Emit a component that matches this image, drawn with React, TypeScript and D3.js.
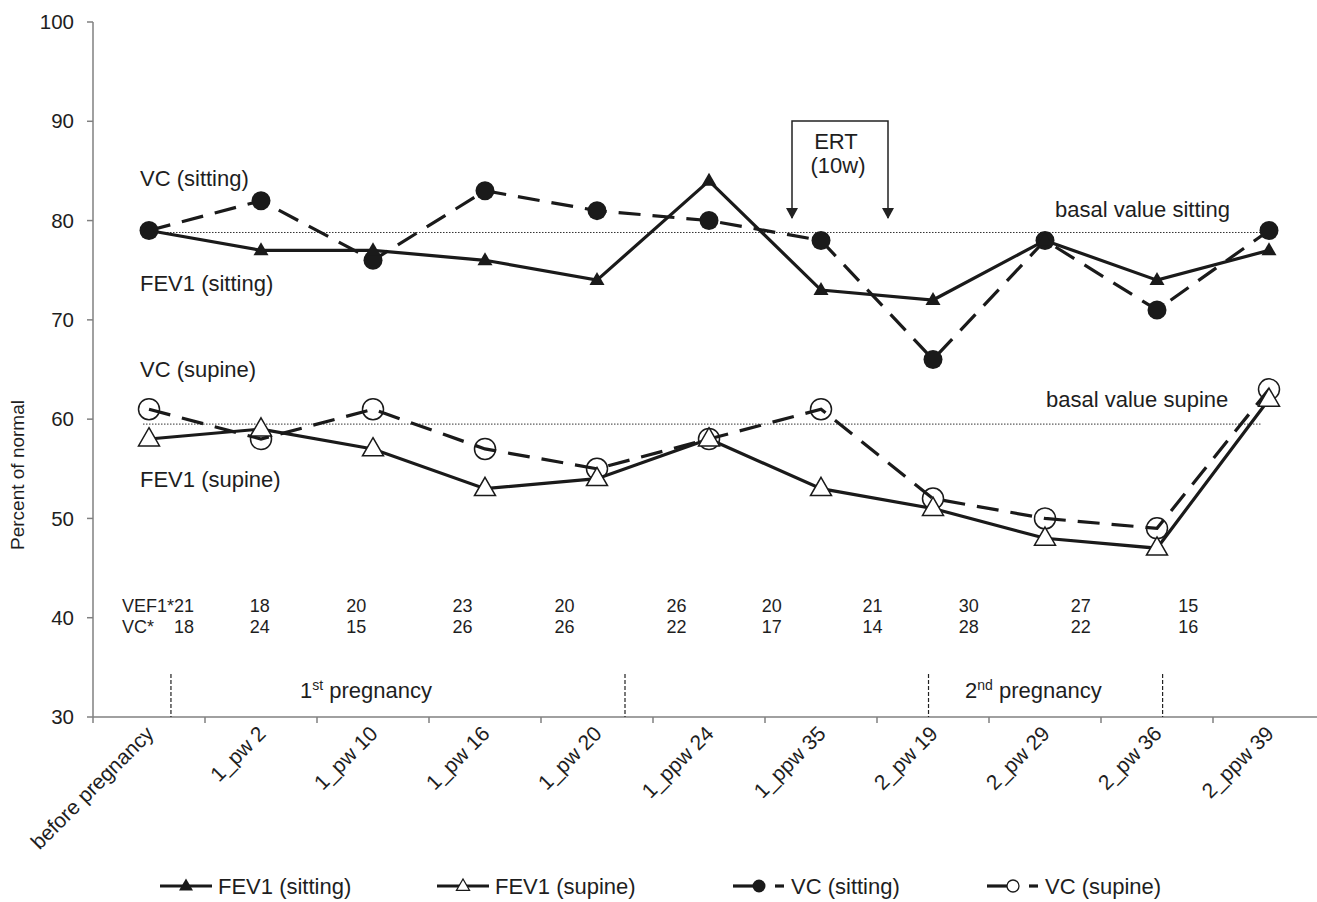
import React from "react";
import * as d3 from "d3";

const categories = ["before pregnancy", "1_pw 2", "1_pw 10", "1_pw 16", "1_pw 20", "1_ppw 24", "1_ppw 35", "2_pw 19", "2_pw 29", "2_pw 36", "2_ppw 39"];
const fev1Sitting = [79, 77, 77, 76, 74, 84, 73, 72, 78, 74, 77];
const vcSitting = [79, 82, 76, 83, 81, 80, 78, 66, 78, 71, 79];
const fev1Supine = [58, 59, 57, 53, 54, 58, 53, 51, 48, 47, 62];
const vcSupine = [61, 58, 61, 57, 55, 58, 61, 52, 50, 49, 63];
const yTicks = [30, 40, 50, 60, 70, 80, 90, 100];
const vef1Star = [21, 18, 20, 23, 20, 26, 20, 21, 30, 27, 15];
const vcStar = [18, 24, 15, 26, 26, 22, 17, 14, 28, 22, 16];
const basalSitting = 78.8;
const basalSupine = 59.5;

const W = 1317, H = 902;
const FONT = "Liberation Sans, Arial, sans-serif";
const AX = "#808080";
const TXT = "#1e1e1e";

export default function App() {
  const left = 93, right = 93 + 11 * 112;
  const x = d3.scaleBand<string>().domain(categories).range([left, right]);
  const bw = x.bandwidth();
  const cx = (i: number) => (x(categories[i]) as number) + bw / 2;
  const xu = (u: number) => left + u * bw; // category units
  const y = d3.scaleLinear().domain([30, 100]).range([717, 22]);
  const line = d3.line<number>().x((_, i) => cx(i)).y((d) => y(d));

  const tri = (px: number, py: number, s: number) => {
    const h = s * 0.866;
    return `M${px},${py - h * 0.62}L${px + s / 2},${py + h * 0.38}L${px - s / 2},${py + h * 0.38}Z`;
  };

  const annU = [0.8125, 1.49, 2.35, 3.3, 4.21, 5.21, 6.06, 6.96, 7.82, 8.82, 9.78];
  const dividers = [0.696, 4.75, 7.46, 9.55];

  const legendItems = [
    { x0: 160, label: "FEV1 (sitting)", kind: "triF" },
    { x0: 437, label: "FEV1 (supine)", kind: "triO" },
    { x0: 733, label: "VC (sitting)", kind: "cirF" },
    { x0: 987, label: "VC (supine)", kind: "cirO" },
  ];

  return (
    <svg width={W} height={H} style={{ display: "block", position: "absolute", left: 0, top: 0, background: "#fff" }} fontFamily={FONT}>
      {/* Axes */}
      <line x1={left} x2={left} y1={y(100)} y2={y(30)} stroke={AX} strokeWidth={1.5} />
      <line x1={left} x2={W} y1={y(30)} y2={y(30)} stroke={AX} strokeWidth={1.5} />
      {yTicks.map((t) => (
        <g key={t}>
          <line x1={left - 6} x2={left} y1={y(t)} y2={y(t)} stroke={AX} strokeWidth={1.5} />
          <text x={74} y={y(t)} dy="0.35em" textAnchor="end" fontSize={20.5} fill={TXT}>{t}</text>
        </g>
      ))}
      {d3.range(0, 11).map((i) => (
        <line key={i} x1={left + i * bw} x2={left + i * bw} y1={y(30)} y2={y(30) + 6} stroke={AX} strokeWidth={1.5} />
      ))}
      {categories.map((c, i) => (
        <text key={c} transform={`translate(${cx(i) + 6},${735}) rotate(-45)`} textAnchor="end" fontSize={21} fill={TXT}>{c}</text>
      ))}
      <text transform={`translate(24,475) rotate(-90)`} textAnchor="middle" fontSize={19} fill={TXT}>Percent of normal</text>

      {/* basal lines */}
      <line x1={143} x2={1262} y1={y(basalSitting)} y2={y(basalSitting)} stroke="#333" strokeWidth={1} strokeDasharray="1.5,1.5" />
      <line x1={143} x2={1262} y1={y(basalSupine)} y2={y(basalSupine)} stroke="#333" strokeWidth={1} strokeDasharray="1.5,1.5" />
      <text x={1055} y={217} fontSize={22} fill={TXT}>basal value sitting</text>
      <text x={1046} y={407} fontSize={22} fill={TXT}>basal value supine</text>

      {/* series labels */}
      <text x={140} y={186} fontSize={22} fill={TXT}>VC (sitting)</text>
      <text x={140} y={291} fontSize={22} fill={TXT}>FEV1 (sitting)</text>
      <text x={140} y={377} fontSize={22} fill={TXT}>VC (supine)</text>
      <text x={140} y={487} fontSize={22} fill={TXT}>FEV1 (supine)</text>

      {/* ERT */}
      <path d="M792,218 L792,121 L888,121 L888,218" fill="none" stroke="#222" strokeWidth={1.5} />
      <path d="M786,208 L798,208 L792,219Z" fill="#222" />
      <path d="M882,208 L894,208 L888,219Z" fill="#222" />
      <text x={836} y={149} textAnchor="middle" fontSize={22} fill={TXT}>ERT</text>
      <text x={838} y={173} textAnchor="middle" fontSize={22} fill={TXT}>(10w)</text>

      {/* lines */}
      <path d={line(vcSitting) as string} fill="none" stroke="#1a1a1a" strokeWidth={3.2} strokeDasharray="22,12" />
      <path d={line(vcSupine) as string} fill="none" stroke="#1a1a1a" strokeWidth={3.2} strokeDasharray="22,12" />
      <path d={line(fev1Sitting) as string} fill="none" stroke="#1a1a1a" strokeWidth={3.2} />
      <path d={line(fev1Supine) as string} fill="none" stroke="#1a1a1a" strokeWidth={3.2} />

      {/* markers */}
      {vcSupine.map((v, i) => (
        <circle key={"vs" + i} cx={cx(i)} cy={y(v)} r={10.5} fill="none" stroke="#1a1a1a" strokeWidth={1.5} />
      ))}
      {fev1Supine.map((v, i) => (
        <path key={"fs" + i} d={tri(cx(i), y(v), 21)} fill="#fff" stroke="#1a1a1a" strokeWidth={1.5} />
      ))}
      {vcSitting.map((v, i) => (
        <circle key={"vc" + i} cx={cx(i)} cy={y(v)} r={9.5} fill="#1a1a1a" />
      ))}
      {fev1Sitting.map((v, i) => (
        <path key={"ft" + i} d={tri(cx(i), y(v), 15)} fill="#1a1a1a" />
      ))}

      {/* annotation numbers */}
      <text x={122} y={612} fontSize={18} fill={TXT}>VEF1*</text>
      <text x={122} y={633} fontSize={18} fill={TXT}>VC*</text>
      {vef1Star.map((v, i) => (
        <text key={"a" + i} x={xu(annU[i])} y={612} textAnchor="middle" fontSize={18} fill={TXT}>{v}</text>
      ))}
      {vcStar.map((v, i) => (
        <text key={"b" + i} x={xu(annU[i])} y={633} textAnchor="middle" fontSize={18} fill={TXT}>{v}</text>
      ))}

      {/* pregnancy dividers */}
      {dividers.map((u, i) => (
        <line key={"d" + i} x1={xu(u)} x2={xu(u)} y1={674} y2={717} stroke="#222" strokeWidth={1.2} strokeDasharray="4,2" />
      ))}
      <text x={300} y={698} fontSize={22} fill={TXT}>1<tspan fontSize={14} dy={-8}>st</tspan><tspan dy={8}> pregnancy</tspan></text>
      <text x={965} y={698} fontSize={22} fill={TXT}>2<tspan fontSize={14} dy={-8}>nd</tspan><tspan dy={8}> pregnancy</tspan></text>

      {/* legend */}
      {legendItems.map((it) => {
        const ly = 886;
        const mx = it.x0 + 26;
        return (
          <g key={it.label}>
            {it.kind.startsWith("tri") ? (
              <line x1={it.x0} x2={it.x0 + 52} y1={ly} y2={ly} stroke="#1a1a1a" strokeWidth={3.2} />
            ) : (
              <>
                <line x1={it.x0} x2={mx} y1={ly} y2={ly} stroke="#1a1a1a" strokeWidth={3.2} />
                <line x1={it.x0 + 42} x2={it.x0 + 51} y1={ly} y2={ly} stroke="#1a1a1a" strokeWidth={3.2} />
              </>
            )}
            {it.kind === "triF" && <path d={tri(mx, ly, 14)} fill="#1a1a1a" />}
            {it.kind === "triO" && <path d={tri(mx, ly, 13)} fill="#fff" stroke="#1a1a1a" strokeWidth={1.3} />}
            {it.kind === "cirF" && <circle cx={mx} cy={ly} r={6.5} fill="#1a1a1a" />}
            {it.kind === "cirO" && <circle cx={mx} cy={ly} r={6} fill="#fff" stroke="#1a1a1a" strokeWidth={1.3} />}
            <text x={it.x0 + 58} y={ly} dy="0.35em" fontSize={22} fill={TXT}>{it.label}</text>
          </g>
        );
      })}
    </svg>
  );
}
